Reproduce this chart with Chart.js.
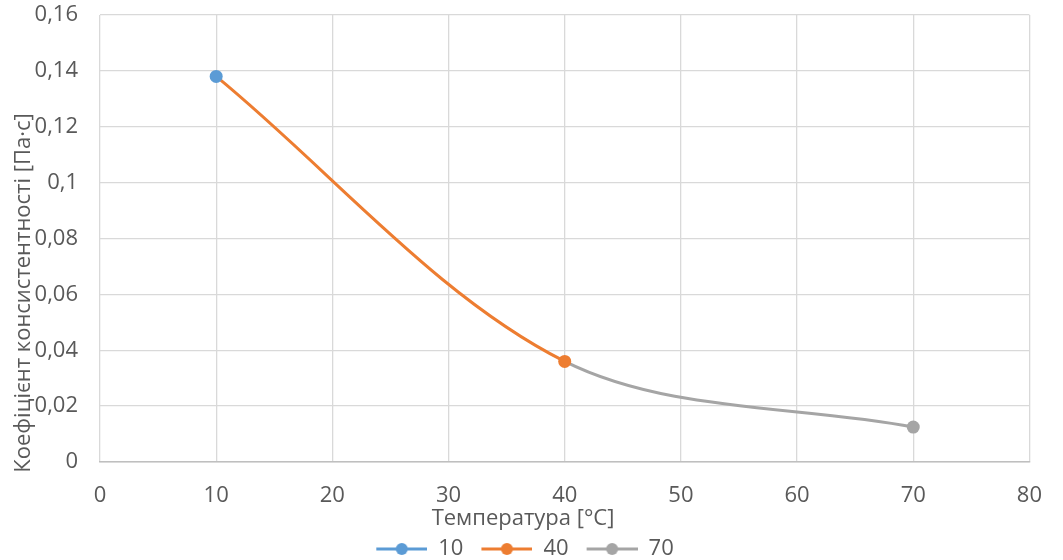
<!DOCTYPE html>
<html>
<head>
<meta charset="utf-8">
<script src="https://cdn.jsdelivr.net/npm/chart.js@4"></script>
<style>
  html, body { margin: 0; padding: 0; background: #fff; }
  #wrap { width: 1063px; height: 560px; position: relative; }
</style>
</head>
<body>
<div id="wrap"><canvas id="chart"></canvas></div>
<script>
// data
const temperatures = [10, 40, 70];
const consistency = [0.138, 0.036, 0.0125];
const legendNames = ['10', '40', '70'];
const pointColors = ['#5B9BD5', '#ED7D31', '#A5A5A5'];
const xTitle = 'Температура [°C]';
const yTitle = 'Коефіцієнт консистентності [Па·с]';

const FONT = "'Open Sans', 'DejaVu Sans', sans-serif";
const TEXT = '#595959';
const FS = 22;

// legend marker: line with a dot in the middle (plus blank room on the left for spacing)
function legendMarker(color) {
    const c = document.createElement('canvas');
    c.width = 66; c.height = 16;
    const g = c.getContext('2d');
    g.strokeStyle = color;
    g.lineWidth = 3;
    g.beginPath();
    g.moveTo(15, 8);
    g.lineTo(66, 8);
    g.stroke();
    g.fillStyle = color;
    g.beginPath();
    g.arc(40.5, 8, 6, 0, Math.PI * 2);
    g.fill();
    return c;
}

// axis titles are placed like in the spreadsheet picture
const axisTitles = {
    id: 'axisTitles',
    afterDraw(chart) {
        const ctx = chart.ctx;
        ctx.save();
        ctx.fillStyle = TEXT;
        ctx.font = FS + 'px ' + FONT;
        ctx.textAlign = 'center';
        ctx.textBaseline = 'middle';
        ctx.fillText(xTitle, 523, 519);
        ctx.translate(24, 293);
        ctx.rotate(-Math.PI / 2);
        ctx.fillText(yTitle, 0, 0);
        ctx.restore();
    }
};

const points = temperatures.map((t, i) => ({ x: t, y: consistency[i] }));

new Chart(document.getElementById('chart'), {
    type: 'scatter',
    data: {
        datasets: [{
            data: points,
            showLine: true,
            tension: 0.33,
            borderWidth: 3,
            pointRadius: 6.5,
            pointHoverRadius: 6.5,
            pointBorderWidth: 0,
            pointBackgroundColor: pointColors,
            pointBorderColor: pointColors,
            borderColor: pointColors[1],
            segment: {
                borderColor: ctx => pointColors[ctx.p1DataIndex]
            }
        }]
    },
    options: {
        responsive: true,
        maintainAspectRatio: false,
        animation: false,
        layout: { padding: { left: 0, right: 28, top: 0, bottom: -10 } },
        scales: {
            x: {
                type: 'linear',
                min: 0,
                max: 80,
                afterFit: s => { s.height = 73; },
                ticks: { stepSize: 10, padding: 21, color: TEXT, font: { family: FONT, size: FS } },
                grid: { color: '#d9d9d9', lineWidth: 1.3, drawTicks: false },
                border: { color: '#bfbfbf', width: 1.5 }
            },
            y: {
                min: 0,
                max: 0.16,
                afterFit: s => {
                    s.width = 100;
                    s.paddingTop = 15;
                    s.paddingBottom = 0;
                },
                ticks: {
                    stepSize: 0.02,
                    padding: 22,
                    color: TEXT,
                    font: { family: FONT, size: FS },
                    callback: v => String(Math.round(v * 100) / 100).replace('.', ',')
                },
                grid: { color: '#d9d9d9', lineWidth: 1.3, drawTicks: false },
                border: { display: false }
            }
        },
        plugins: {
            tooltip: { enabled: false },
            legend: {
                position: 'bottom',
                labels: {
                    usePointStyle: true,
                    pointStyleWidth: 66,
                    padding: 3,
                    color: TEXT,
                    font: { family: FONT, size: FS },
                    generateLabels: () => legendNames.map((name, i) => ({
                        text: name,
                        pointStyle: legendMarker(pointColors[i]),
                        fillStyle: pointColors[i],
                        strokeStyle: pointColors[i],
                        fontColor: TEXT,
                        lineWidth: 0,
                        hidden: false,
                        datasetIndex: 0
                    }))
                }
            }
        }
    },
    plugins: [axisTitles]
});
</script>
</body>
</html>
